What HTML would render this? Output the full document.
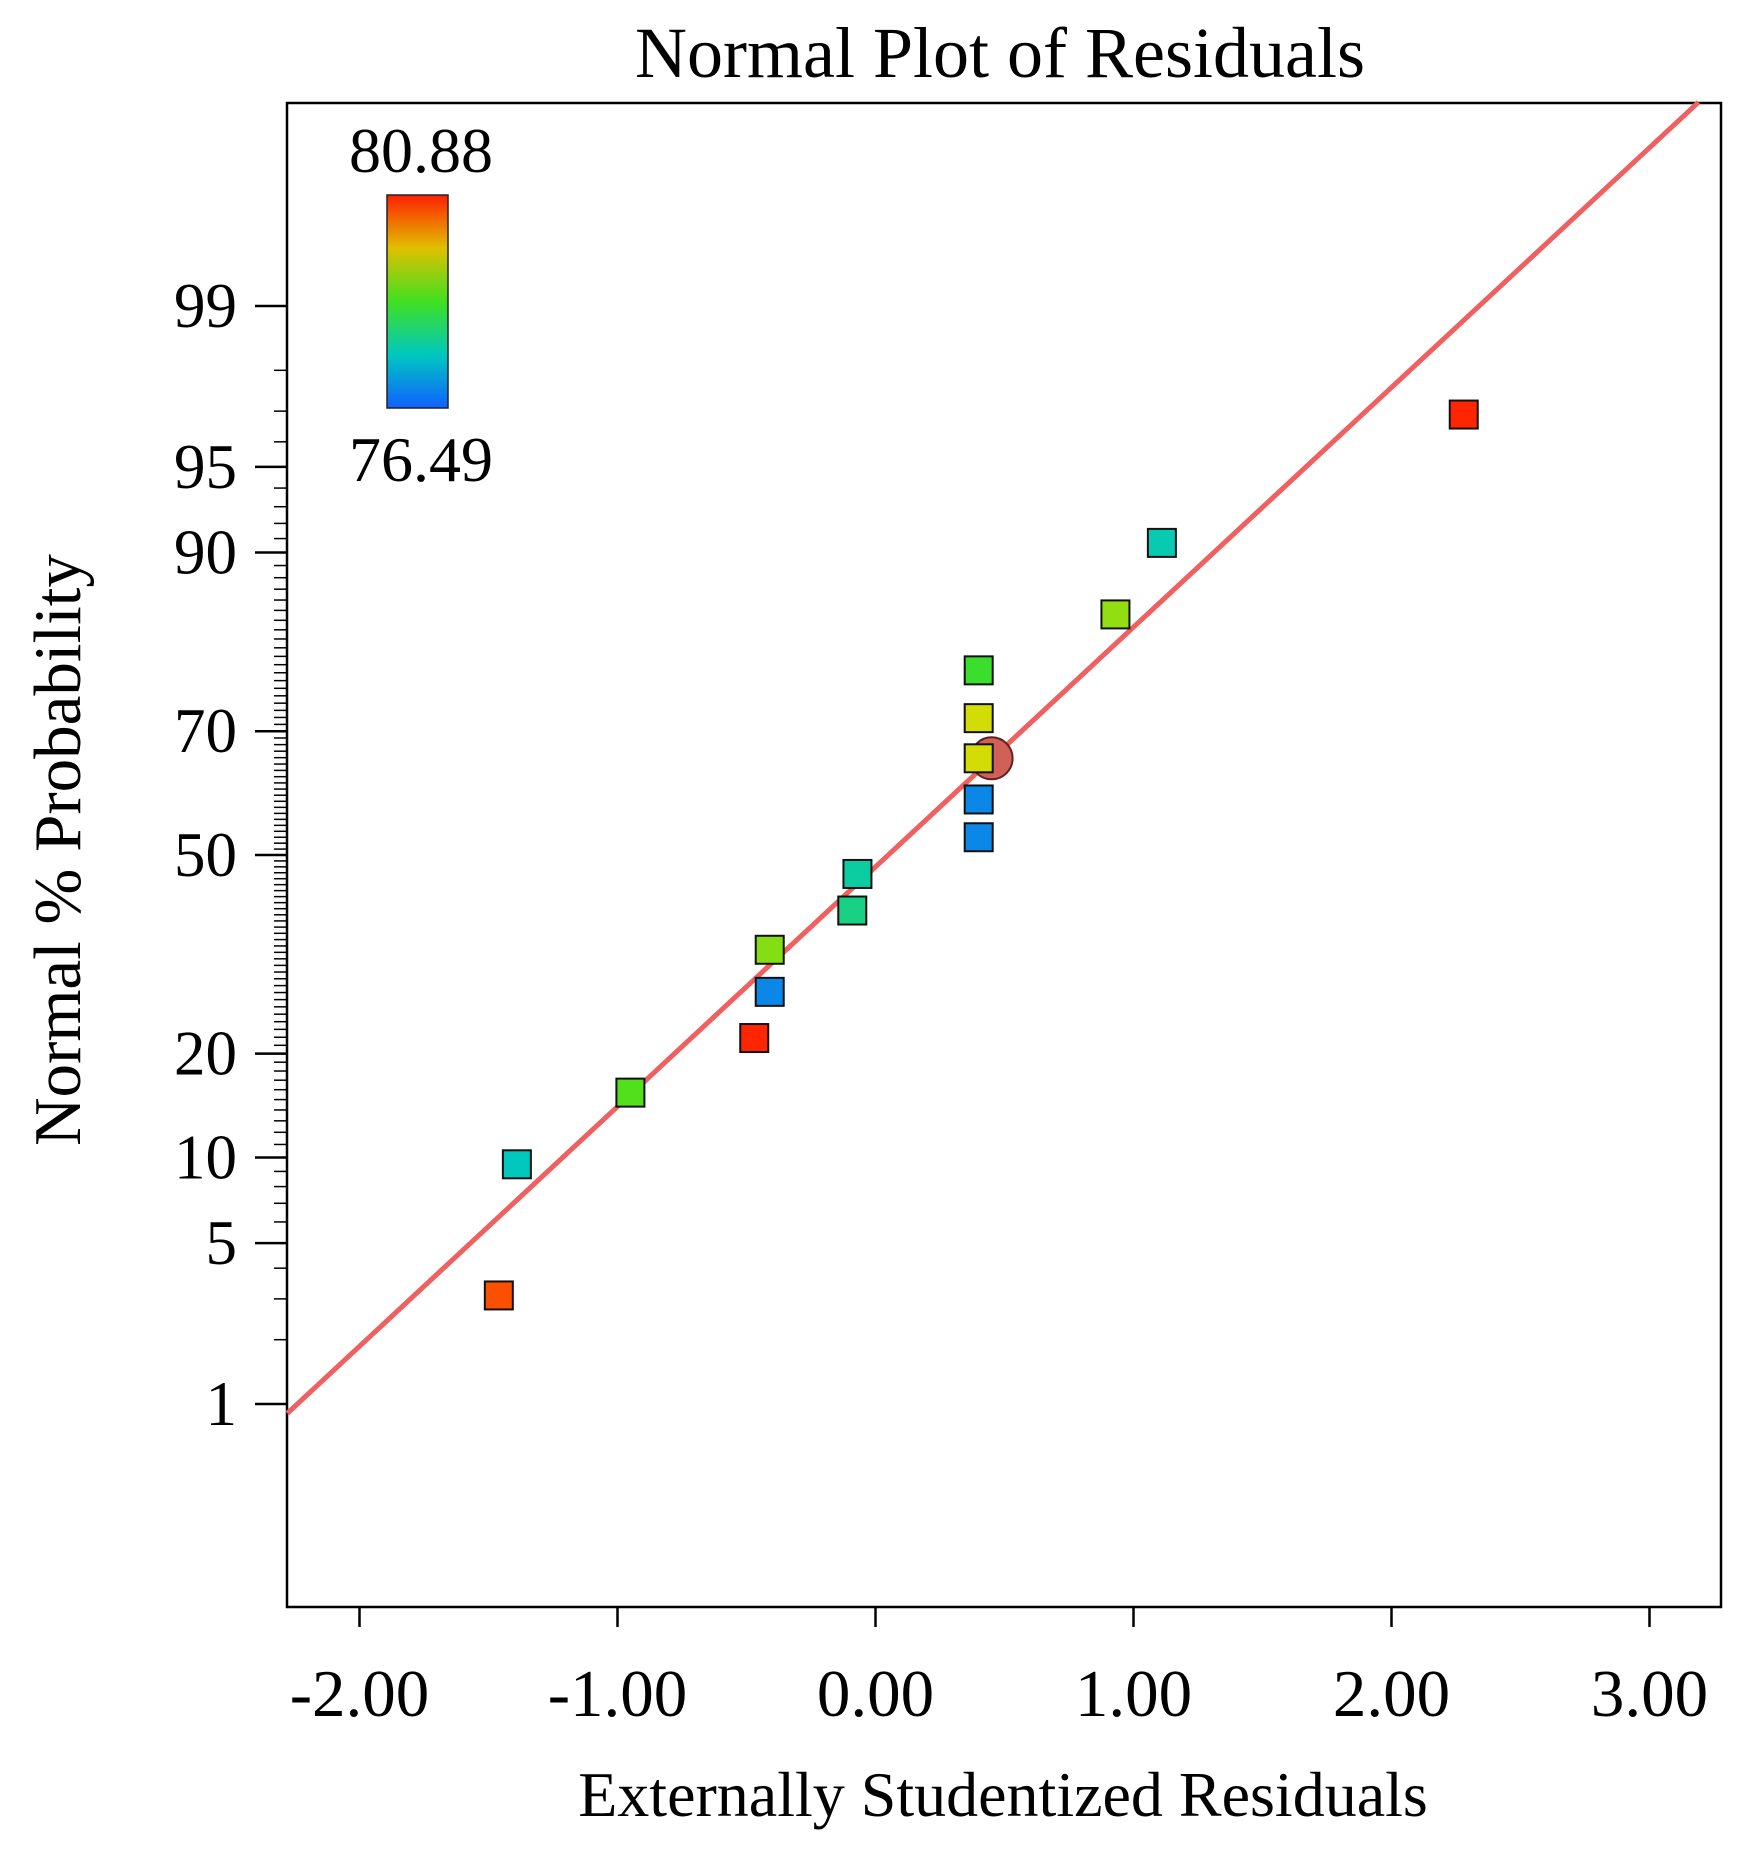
<!DOCTYPE html>
<html><head><meta charset="utf-8"><style>
html,body{margin:0;padding:0;background:#fff;}
svg{display:block;font-family:"Liberation Serif",serif;}
</style></head><body>
<svg id="chart" width="1739" height="1849" viewBox="0 0 1739 1849" xmlns="http://www.w3.org/2000/svg">
<defs>
<linearGradient id="cb" x1="0" y1="1" x2="0" y2="0">
<stop offset="0" stop-color="#1060ff"/><stop offset="0.25" stop-color="#00c8c0"/><stop offset="0.5" stop-color="#40e020"/><stop offset="0.75" stop-color="#e0c000"/><stop offset="1" stop-color="#ff2000"/>
</linearGradient>
</defs>
<text x="1000" y="77" font-size="72" text-anchor="middle">Normal Plot of Residuals</text>
<rect x="287" y="103" width="1434" height="1504" fill="none" stroke="#000" stroke-width="2.5"/>
<g id="yticks"></g><g id="xticks"></g>
<g id="marks"></g>
<text x="1003" y="1816" font-size="64" text-anchor="middle">Externally Studentized Residuals</text>
<text transform="translate(80,850) rotate(-90)" font-size="67" text-anchor="middle">Normal % Probability</text>
<g>
<rect x="387" y="195" width="61" height="213" fill="url(#cb)" stroke="#222" stroke-width="1.5"/>
<text x="421" y="172" font-size="64" text-anchor="middle">80.88</text>
<text x="421" y="481" font-size="64" text-anchor="middle">76.49</text>
</g>
</svg>
<script>
const xTicks=[-2,-1,0,1,2,3];
const yTickLabels=[1,5,10,20,50,70,90,95,99];
const resid=[2.28,1.11,0.93,0.40,0.40,0.40,0.40,0.40,-0.07,-0.09,-0.41,-0.41,-0.47,-0.95,-1.39,-1.46];
const prob=[96.9,90.7,84.6,78.3,71.9,65.9,59.3,53.0,46.8,40.7,34.4,28.1,21.9,15.7,9.5,3.1];
const response=[80.85,77.7,79.2,78.6,79.6,79.6,76.9,76.9,77.8,78.0,79.1,76.9,80.85,78.8,77.6,80.6];
const highlight=[0.45,65.9];
const lineX=[-2.28,3.19];
const lineZ=[-2.366,3.19];
const vMin=76.49,vMax=80.88;

const NS="http://www.w3.org/2000/svg";
const L=287,R=1721,T=103,B=1607;
function sx(v){return 875.5+258*v;}
function zy(z){return 855-236*z;}
function invNorm(p){
  const a=[-39.69683028665376,220.9460984245205,-275.9285104469687,138.3577518672690,-30.66479806614716,2.506628277459239];
  const b=[-54.47609879822406,161.5858368580409,-155.6989798598866,66.80131188771972,-13.28068155288572];
  const c=[-0.007784894002430293,-0.3223964580411365,-2.400758277161838,-2.549732539343734,4.374664141464968,2.938163982698783];
  const d=[0.007784695709041462,0.3224671290700398,2.445134137142996,3.754408661907416];
  const pl=0.02425;let q,r;
  if(p<pl){q=Math.sqrt(-2*Math.log(p));return (((((c[0]*q+c[1])*q+c[2])*q+c[3])*q+c[4])*q+c[5])/((((d[0]*q+d[1])*q+d[2])*q+d[3])*q+1);}
  if(p>1-pl){q=Math.sqrt(-2*Math.log(1-p));return -(((((c[0]*q+c[1])*q+c[2])*q+c[3])*q+c[4])*q+c[5])/((((d[0]*q+d[1])*q+d[2])*q+d[3])*q+1);}
  q=p-0.5;r=q*q;return (((((a[0]*r+a[1])*r+a[2])*r+a[3])*r+a[4])*r+a[5])*q/(((((b[0]*r+b[1])*r+b[2])*r+b[3])*r+b[4])*r+1);
}
function sy(pct){return zy(invNorm(pct/100));}
function mk(tag,attrs,parent){const e=document.createElementNS(NS,tag);for(const k in attrs)e.setAttribute(k,attrs[k]);parent.appendChild(e);return e;}
function cmap(v){
  const t=Math.max(0,Math.min(1,(v-vMin)/(vMax-vMin)));
  const st=[[0,[16,96,255]],[0.25,[0,200,192]],[0.5,[64,224,32]],[0.75,[240,220,0]],[1,[255,32,0]]];
  for(let i=0;i<4;i++){const [t0,c0]=st[i],[t1,c1]=st[i+1];if(t<=t1){const f=(t-t0)/(t1-t0);return 'rgb('+c0.map((c,j)=>Math.round(c+(c1[j]-c)*f)).join(',')+')';}}
  return 'rgb(255,32,0)';
}
const yt=document.getElementById('yticks');
for(let p=1;p<=99;p++){
  const y=sy(p);
  const major=yTickLabels.includes(p);
  const t=mk('line',{x1:major?L-32:L-13,x2:L,y1:y,y2:y,stroke:'#000','stroke-width':major?2.5:1.5},yt);
  
  
}
yTickLabels.forEach(p=>{
  const t=mk('text',{x:237,y:sy(p)+21,'font-size':63,'text-anchor':'end'},yt);
  t.textContent=p;
  
  
});
const xt=document.getElementById('xticks');
xTicks.forEach(v=>{
  const x=sx(v);
  const l=mk('line',{x1:x,x2:x,y1:B,y2:B+20,stroke:'#000','stroke-width':2.5},xt);
  
  
  const t=mk('text',{x:x,y:1716,'font-size':67,'text-anchor':'middle'},xt);
  t.textContent=v.toFixed(2);
  
  
});
const g=document.getElementById('marks');
const ln=mk('line',{x1:sx(lineX[0]),y1:zy(lineZ[0]),x2:sx(lineX[1]),y2:zy(lineZ[1]),stroke:'#f06060','stroke-width':5},g);


const c=mk('circle',{cx:sx(highlight[0]),cy:sy(highlight[1]),r:21,fill:'#d06058',stroke:'#602020','stroke-width':2},g);


resid.forEach((r,i)=>{
  const s=28;
  const e=mk('rect',{x:sx(r)-s/2,y:sy(prob[i])-s/2,width:s,height:s,fill:cmap(response[i]),stroke:'#111','stroke-width':2},g);
  
  
});
</script>
</body></html>
